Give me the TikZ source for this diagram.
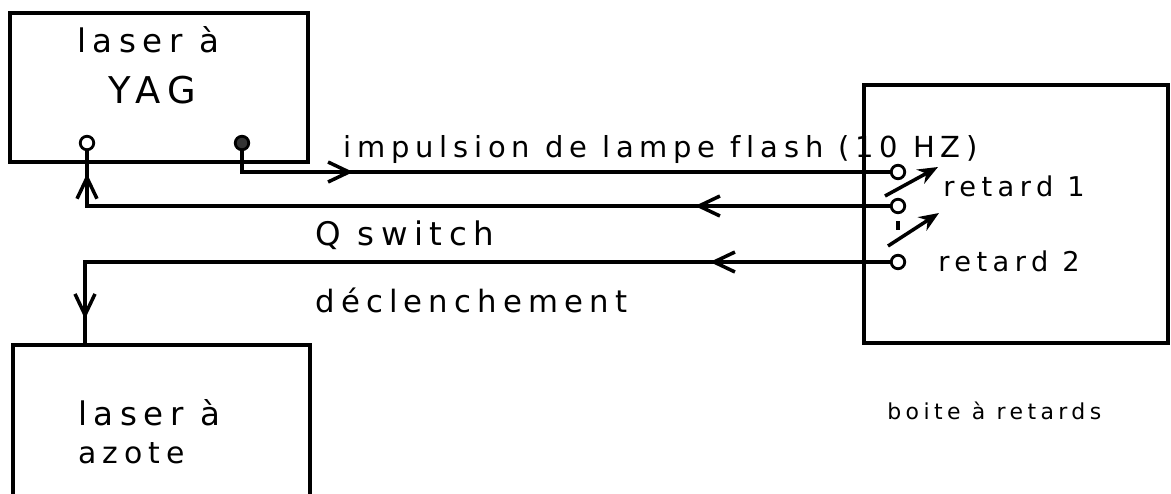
\documentclass[tikz,border=0pt]{standalone}
\usepackage{fontspec}
\setmainfont{DejaVu Sans}[LetterSpace=20, Ligatures=NoCommon]
\usepackage{tikz}
\usetikzlibrary{arrows.meta}
\usetikzlibrary{decorations.markings}
\usetikzlibrary{positioning,calc}

\begin{document}
\begin{tikzpicture}[x=0.02cm, y=-0.02cm,
    box/.style={draw, line width=2.1pt, inner sep=0pt},
    wire/.style={line width=2pt},
    port/.style={circle, draw, line width=1.6pt, fill=white, minimum size=0.27cm, inner sep=0pt},
    lbl/.style={font=\fontsize{#1}{#1}\selectfont, inner sep=0pt, anchor=base west},
    midarr/.style={postaction={decorate, decoration={markings,
        mark=at position #1 with {\arrow[line width=2pt]{Straight Barb[length=4.2mm,width=4mm]}}}}}]
  \fill[white] (0,0) rectangle (1171,494);
  \useasboundingbox (0,0) rectangle (1171,494);

  % les trois boites
  \node[box, minimum width=5.96cm, minimum height=2.98cm] (yag) at (159,87.5) {};
  \node[box, minimum width=5.94cm, minimum height=3.3cm] (azote) at (161.5,427.5) {};
  \node[box, minimum width=6.08cm, minimum height=5.16cm] (retards) at (1016,214) {};

  % bornes
  \node[port] (yagin) at (87,143) {};
  \node[port, fill=black!80] (yagout) at (242,143) {};
  \node[port] (ret1) at (898,172) {};
  \node[port] (ret2) at (898,206) {};
  \node[port] (ret3) at (898,262) {};
  \coordinate (azin) at (85,345);

  % liaisons
  \draw[wire, midarr=2.64cm] (yagout.south) |- (ret1.west);
  \draw[wire, midarr=3.9cm, midarr=-0.45cm] (ret2.west) -| (yagin.south);
  \draw[wire, midarr=3.6cm, midarr=-0.52cm] (ret3.west) -| (azin);

  % commutateurs
  \coordinate (s1a) at (885,196);
  \coordinate (s1b) at (938,167);
  \coordinate (s2a) at (888,246);
  \coordinate (s2b) at (939,213);
  \draw[wire, -{Stealth[length=4mm,width=3.2mm]}] (s1a) -- (s1b);
  \draw[wire, -{Stealth[length=4mm,width=3.2mm]}] (s2a) -- (s2b);
  \draw[wire] ([yshift=-0.14cm]ret2.south) -- ([yshift=-0.32cm]ret2.south);

  % textes
  \node[lbl=18.5] (yagt1) at (77,52) {laser à};
  \node[lbl=21] (yagt2) at (108,103) {YAG};
  \node[lbl=16.5] (imp) at (343,157) {impulsion de lampe flash (10 HZ)};
  \node[lbl=18.5] (qsw) at (315,245) {Q switch};
  \node[lbl=17.5] (decl) at (315,312) {déclenchement};
  \node[lbl=15.5] (r1) at (943,196) {retard 1};
  \node[lbl=15.5] (r2) at (938,271) {retard 2};
  \node[lbl=18.5] (azt1) at (78,425) {laser à};
  \node[lbl=17] (azt2) at (78,463) {azote};
  \node[lbl=12.5] (boite) at (887,419) {boite à retards};
\end{tikzpicture}
\end{document}
